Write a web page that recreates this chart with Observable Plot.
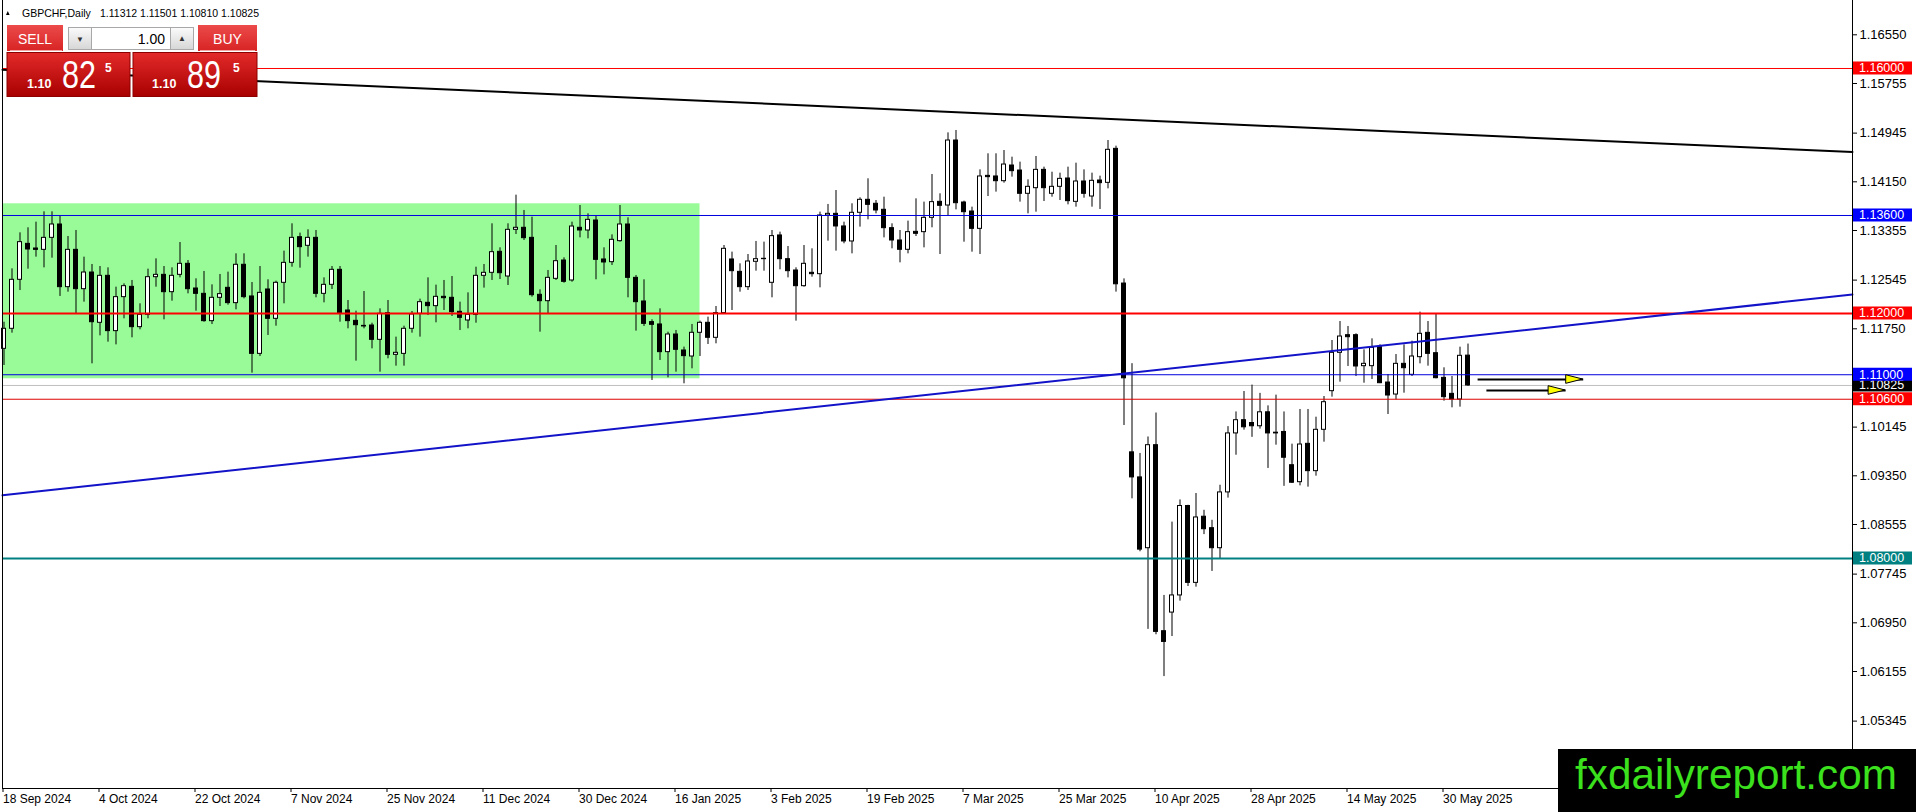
<!DOCTYPE html>
<html>
<head>
<meta charset="utf-8">
<script src="https://cdn.jsdelivr.net/npm/d3@7"></script>
<script src="https://cdn.jsdelivr.net/npm/@observablehq/plot@0.6"></script>
<style>
html,body{margin:0;padding:0;background:#fff;}
#wrap{position:relative;width:1916px;height:812px;overflow:hidden;background:#fff;}
#wrap svg{position:absolute;left:0;top:0;}
</style>
</head>
<body>
<div id="wrap"></div>
<script>
// ---- data (GBPCHF daily, bar index 0 = 18 Sep 2024) ----
const opens = [1.11423,1.11750,1.12550,1.13137,1.13061,1.13039,1.13235,1.13453,1.12430,1.13039,1.12397,1.12669,1.11848,1.12615,1.11712,1.12267,1.12435,1.11777,1.11978,1.12593,1.12631,1.12348,1.12631,1.12811,1.12408,1.12321,1.11875,1.12256,1.12419,1.12169,1.12795,1.12278,1.11341,1.12392,1.11913,1.12501,1.12827,1.13246,1.13105,1.13235,1.12321,1.12468,1.12713,1.12049,1.11880,1.11798,1.11804,1.11570,1.12005,1.11325,1.11341,1.11750,1.11995,1.12174,1.12120,1.12272,1.12256,1.12027,1.11886,1.11978,1.12615,1.12664,1.13007,1.12604,1.13366,1.13399,1.13235,1.12305,1.12201,1.12566,1.12865,1.12539,1.13399,1.13355,1.13518,1.12882,1.12838,1.13181,1.13453,1.12582,1.12196,1.11859,1.11821,1.11369,1.11657,1.11396,1.11298,1.11685,1.11848,1.11603,1.12006,1.12882,1.12680,1.12430,1.12844,1.12893,1.12501,1.13274,1.12887,1.12702,1.12446,1.12664,1.12642,1.13600,1.13627,1.13421,1.13176,1.13644,1.13856,1.13791,1.13693,1.13393,1.13192,1.13040,1.13333,1.13328,1.13562,1.13823,1.13763,1.14824,1.13812,1.13665,1.13382,1.14247,1.14237,1.14160,1.14416,1.14334,1.13954,1.14046,1.14345,1.13954,1.14068,1.14204,1.13823,1.14155,1.13910,1.14171,1.14133,1.14688,1.12489,1.09733,1.09324,1.08168,1.09850,1.06813,1.07117,1.07397,1.08857,1.07602,1.08682,1.08495,1.08168,1.09079,1.10042,1.10258,1.10212,1.10159,1.10387,1.10054,1.10066,1.09523,1.09246,1.09872,1.09426,1.10101,1.10732,1.11358,1.11646,1.11646,1.11140,1.11140,1.11450,1.10873,1.10677,1.11178,1.10999,1.11287,1.11684,1.11352,1.10949,1.10688,1.10596,1.11312];
const highs = [1.11858,1.12729,1.13317,1.13399,1.13491,1.13660,1.13660,1.13584,1.13257,1.13355,1.12920,1.12800,1.12767,1.12745,1.12430,1.12484,1.12539,1.12158,1.12724,1.12892,1.12767,1.12745,1.13159,1.12865,1.12566,1.12686,1.12468,1.12637,1.12675,1.12974,1.12974,1.12506,1.12767,1.12550,1.12528,1.13018,1.13464,1.13312,1.13366,1.13355,1.12582,1.12767,1.12767,1.12212,1.12038,1.12359,1.11842,1.12076,1.12212,1.11614,1.11793,1.12033,1.12234,1.12582,1.12463,1.12539,1.12604,1.12185,1.12337,1.12756,1.12800,1.13464,1.13072,1.13464,1.13932,1.13682,1.13573,1.12386,1.12702,1.13110,1.12909,1.13491,1.13763,1.13627,1.13584,1.13072,1.13284,1.13763,1.13562,1.12620,1.12550,1.11897,1.12076,1.11695,1.11723,1.11451,1.11821,1.11875,1.11940,1.12114,1.13110,1.13002,1.12811,1.12963,1.13176,1.13165,1.13355,1.13328,1.13094,1.12746,1.13110,1.13056,1.13655,1.13780,1.14008,1.13491,1.13791,1.13889,1.14199,1.13845,1.13899,1.13464,1.13355,1.13508,1.13872,1.13818,1.14269,1.13954,1.14949,1.14988,1.13834,1.13736,1.14345,1.14607,1.14607,1.14661,1.14552,1.14471,1.14182,1.14563,1.14389,1.14307,1.14291,1.14389,1.14454,1.14345,1.14291,1.14242,1.14824,1.14732,1.12565,1.11181,1.09715,1.09984,1.10375,1.07397,1.08594,1.08956,1.08869,1.09061,1.08787,1.08624,1.09196,1.10153,1.10393,1.10726,1.10831,1.10696,1.10492,1.10667,1.10393,1.09867,1.10433,1.10433,1.10307,1.10645,1.11559,1.11869,1.11788,1.11668,1.11407,1.11586,1.11488,1.11004,1.11330,1.11488,1.11548,1.12022,1.11869,1.11994,1.11113,1.10971,1.11450,1.11501];
const lows = [1.11151,1.11679,1.12375,1.12724,1.12920,1.12745,1.12903,1.12278,1.12348,1.11984,1.12185,1.11178,1.11635,1.11532,1.11488,1.11913,1.11603,1.11733,1.11913,1.12430,1.11897,1.12201,1.12582,1.12321,1.12038,1.11858,1.11820,1.12114,1.12136,1.12060,1.12239,1.11026,1.11298,1.11641,1.11793,1.12158,1.12756,1.12740,1.12920,1.12256,1.12174,1.12392,1.11858,1.11750,1.11222,1.11750,1.11423,1.11042,1.11260,1.11140,1.11140,1.11679,1.11614,1.11967,1.11848,1.12049,1.11951,1.11722,1.11750,1.11842,1.12414,1.12539,1.12555,1.12457,1.13290,1.13192,1.12267,1.11695,1.11995,1.12539,1.12495,1.12511,1.13235,1.13219,1.12550,1.12631,1.12784,1.13165,1.12256,1.11712,1.11788,1.10906,1.11233,1.10950,1.11042,1.10852,1.11097,1.11298,1.11494,1.11505,1.11995,1.12049,1.12348,1.12376,1.12691,1.12691,1.12256,1.12713,1.12582,1.11875,1.12430,1.12593,1.12419,1.13181,1.13018,1.13138,1.12974,1.13410,1.13529,1.13627,1.13235,1.13056,1.12827,1.12974,1.13257,1.13072,1.13399,1.12963,1.13584,1.13692,1.13164,1.13001,1.12963,1.13910,1.13981,1.14128,1.14226,1.13818,1.13627,1.13654,1.13828,1.13899,1.13845,1.13774,1.13736,1.13883,1.13736,1.13698,1.14035,1.12349,1.10171,1.08974,1.08110,1.06843,1.06755,1.06072,1.06726,1.07304,1.07543,1.07532,1.08390,1.07789,1.07993,1.08986,1.09686,1.10095,1.09978,1.10112,1.09470,1.09850,1.09178,1.09225,1.09186,1.09165,1.09344,1.09899,1.10634,1.10879,1.11135,1.10971,1.10862,1.10922,1.10855,1.10351,1.10590,1.10699,1.10971,1.11178,1.11140,1.10933,1.10569,1.10460,1.10471,1.10810];
const closes = [1.11750,1.12550,1.13165,1.13045,1.13039,1.13235,1.13453,1.12430,1.13039,1.12397,1.12669,1.11858,1.12615,1.11712,1.12267,1.12446,1.11777,1.11978,1.12593,1.12631,1.12348,1.12615,1.12811,1.12397,1.12321,1.11875,1.12256,1.12316,1.12169,1.12795,1.12267,1.11341,1.12337,1.11913,1.12501,1.12827,1.13235,1.13083,1.13235,1.12321,1.12468,1.12713,1.12005,1.11875,1.11809,1.11788,1.11570,1.11995,1.11325,1.11358,1.11750,1.11984,1.12185,1.12120,1.12272,1.12250,1.12022,1.11929,1.11978,1.12615,1.12664,1.13001,1.12658,1.13366,1.13399,1.13230,1.12299,1.12201,1.12582,1.12854,1.12517,1.13420,1.13355,1.13529,1.12876,1.12833,1.13203,1.13453,1.12582,1.12185,1.11831,1.11815,1.11369,1.11657,1.11407,1.11304,1.11685,1.11848,1.11603,1.12006,1.13056,1.12691,1.12430,1.12849,1.12887,1.12887,1.13263,1.12887,1.12691,1.12446,1.12811,1.12642,1.13600,1.13627,1.13421,1.13176,1.13644,1.13856,1.13774,1.13682,1.13393,1.13192,1.13040,1.13328,1.13301,1.13562,1.13818,1.13758,1.14824,1.13801,1.13654,1.13382,1.14237,1.14226,1.14160,1.14432,1.14324,1.13954,1.14068,1.14345,1.14046,1.14068,1.14198,1.13834,1.14155,1.13954,1.14166,1.14128,1.14672,1.12477,1.10942,1.09324,1.08145,1.09850,1.06802,1.06638,1.07397,1.08857,1.07602,1.08670,1.08478,1.08168,1.09079,1.10042,1.10258,1.10142,1.10159,1.10387,1.10042,1.10042,1.09645,1.09237,1.09861,1.09426,1.10101,1.10552,1.11358,1.11624,1.11613,1.11135,1.11178,1.11439,1.10862,1.10661,1.11178,1.11107,1.11298,1.11668,1.11341,1.10944,1.10634,1.10596,1.11309,1.10825];

const tickBars = [0,12,24,36,48,60,72,84,96,108,120,132,144,156,168,180];
const dateLabels = ["18 Sep 2024","4 Oct 2024","22 Oct 2024","7 Nov 2024","25 Nov 2024","11 Dec 2024","30 Dec 2024","16 Jan 2025","3 Feb 2025","19 Feb 2025","7 Mar 2025","25 Mar 2025","10 Apr 2025","28 Apr 2025","14 May 2025","30 May 2025"];
const priceTicks = [1.16550,1.15755,1.14945,1.14150,1.13355,1.12545,1.11750,1.10145,1.09350,1.08555,1.07745,1.06950,1.06155,1.05345];

const levelPrices = [1.16000,1.13600,1.12000,1.11000,1.10600,1.08000];
const levelColors = ["#ff0000","#0000e0","#ff0000","#0000e0","#e00000","#008080"];
const levelBoxColors = ["#ff0000","#0000ff","#ff0000","#0000ff","#ff0000","#008080"];
const levelWidths = [1,1,2,1,1,2];
const lastPrice = 1.10825;

const zoneBars = [-0.19, 87];
const zonePrices = [1.10934, 1.13791];

const blackTrendBars = [-0.19, 231.06];
const blackTrendPrices = [1.15980, 1.14636];
const blueTrendBars = [-0.19, 231.06];
const blueTrendPrices = [1.09032, 1.12310];

const arrowFrom = [184.2, 185.3];
const arrowTo = [197.4, 195.2];
const arrowPrices = [1.10922, 1.10743];

// ---- tables ----
const candles = opens.map((o, i) => ({i, open: o, high: highs[i], low: lows[i], close: closes[i]}));
const zone = [{x1: zoneBars[0], x2: zoneBars[1], y1: zonePrices[0], y2: zonePrices[1]}];
const blackTrend = blackTrendBars.map((b, k) => ({b, p: blackTrendPrices[k]}));
const blueTrend = blueTrendBars.map((b, k) => ({b, p: blueTrendPrices[k]}));
const arrows = arrowFrom.map((f, k) => ({x1: f, x2: arrowTo[k], y: arrowPrices[k]}));

const halfBody = 0.25;

const chart = Plot.plot({
  width: 1916,
  height: 812,
  marginLeft: 2,
  marginRight: 64,
  marginTop: 0,
  marginBottom: 24,
  style: {fontFamily: "'Liberation Sans', Arial, sans-serif", fontSize: "12px", background: "transparent", color: "black"},
  x: {domain: [-0.1875, 231.0625]},
  y: {domain: [1.04245, 1.17110]},
  marks: [
    Plot.rect(zone, {x1: "x1", x2: "x2", y1: "y1", y2: "y2", fill: "#98fb98"}),
    Plot.ruleY([lastPrice], {stroke: "#c0c0c0", strokeWidth: 1}),
    Plot.ruleX(candles, {x: "i", y1: "low", y2: "high", stroke: "black", strokeWidth: 1}),
    Plot.rect(candles, {
      x1: d => d.i - halfBody, x2: d => d.i + halfBody,
      y1: "open", y2: "close",
      fill: d => d.close >= d.open ? "white" : "black",
      stroke: "black", strokeWidth: 1
    }),
    ...levelPrices.map((p, k) => Plot.ruleY([p], {stroke: levelColors[k], strokeWidth: levelWidths[k]})),
    Plot.line(blackTrend, {x: "b", y: "p", stroke: "black", strokeWidth: 2}),
    Plot.line(blueTrend, {x: "b", y: "p", stroke: "#1212c8", strokeWidth: 2}),
    Plot.link(arrows, {x1: "x1", x2: "x2", y1: "y", y2: "y", stroke: "black", strokeWidth: 2}),
    Plot.frame({anchor: "left", stroke: "black"}),
    Plot.frame({anchor: "bottom", stroke: "black"}),
    Plot.frame({anchor: "right", stroke: "black"}),
    Plot.axisY({anchor: "right", ticks: priceTicks, tickFormat: d => d.toFixed(5), tickSize: 4, tickPadding: 3, fontSize: 13, label: null}),
    Plot.axisX({anchor: "bottom", ticks: tickBars, tickFormat: d => dateLabels[tickBars.indexOf(d)], tickSize: 4, tickPadding: 2, textAnchor: "start", dx: -1, fontSize: 12, label: null})
  ]
});

document.getElementById("wrap").appendChild(chart);

const xs = chart.scale("x"), ys = chart.scale("y");
const svg = d3.select(chart);

// arrow heads (yellow, outlined)
const heads = svg.append("g");
arrows.forEach(a => {
  const tx = xs.apply(a.x2), ty = ys.apply(a.y);
  const bx = tx - 17;
  heads.append("polygon")
    .attr("points", `${bx},${ty - 4.3} ${tx},${ty} ${bx},${ty + 4.3}`)
    .attr("fill", "#ffff00").attr("stroke", "black").attr("stroke-width", 1);
});

// price-level label boxes on the right axis
const boxes = svg.append("g")
  .attr("font-family", "'Liberation Sans', Arial, sans-serif")
  .attr("font-size", 12.5)
  .attr("text-anchor", "start");
const boxItems = [{p: lastPrice, c: "#000000"}].concat(levelPrices.map((p, k) => ({p, c: levelBoxColors[k]})));
boxItems.forEach(b => {
  const y = ys.apply(b.p);
  boxes.append("rect").attr("x", 1853).attr("y", y - 6.5).attr("width", 59).attr("height", 13).attr("fill", b.c);
  boxes.append("text").attr("x", 1859).attr("y", y).attr("dy", "0.35em")
    .attr("text-anchor", "start").attr("fill", "white").text(b.p.toFixed(5));
});

// overlay: header, trade panel, watermark
const ov = d3.select("#wrap").append("svg").attr("width", 1916).attr("height", 812)
  .style("font-family", "'Liberation Sans', Arial, sans-serif");
const defs = ov.append("defs");
function grad(id, c1, c2) {
  const g = defs.append("linearGradient").attr("id", id).attr("x1", 0).attr("y1", 0).attr("x2", 0).attr("y2", 1);
  g.append("stop").attr("offset", "0%").attr("stop-color", c1);
  g.append("stop").attr("offset", "100%").attr("stop-color", c2);
}
grad("gBig", "#e32a2a", "#a80000");
grad("gBtn", "#ec4a4a", "#d82424");
grad("gGrey", "#fbfbfb", "#d6d6d6");

ov.append("polygon").attr("points", "6,15 7.8,11 9.6,15").attr("fill", "black");
ov.append("text").attr("x", 22).attr("y", 17).attr("font-size", 10.5).text("GBPCHF,Daily");
ov.append("text").attr("x", 100).attr("y", 17).attr("font-size", 10.5).text("1.11312 1.11501 1.10810 1.10825");

ov.append("rect").attr("x", 7).attr("y", 25).attr("width", 56).attr("height", 26).attr("fill", "url(#gBtn)");
ov.append("line").attr("x1", 10).attr("x2", 62).attr("y1", 50.5).attr("y2", 50.5).attr("stroke", "#f3a5a5");
ov.append("text").attr("x", 35).attr("y", 44).attr("text-anchor", "middle").attr("font-size", 14).attr("fill", "white").text("SELL");
ov.append("rect").attr("x", 68.5).attr("y", 27.5).attr("width", 23).attr("height", 22).attr("fill", "url(#gGrey)").attr("stroke", "#a8a8a8");
ov.append("text").attr("x", 80).attr("y", 42).attr("text-anchor", "middle").attr("font-size", 8).attr("fill", "#333").text("▼");
ov.append("rect").attr("x", 91.5).attr("y", 27.5).attr("width", 79).attr("height", 22).attr("fill", "white").attr("stroke", "#a8a8a8");
ov.append("text").attr("x", 165).attr("y", 44).attr("text-anchor", "end").attr("font-size", 14).attr("fill", "black").text("1.00");
ov.append("rect").attr("x", 170.5).attr("y", 27.5).attr("width", 23).attr("height", 22).attr("fill", "url(#gGrey)").attr("stroke", "#a8a8a8");
ov.append("text").attr("x", 182).attr("y", 41).attr("text-anchor", "middle").attr("font-size", 8).attr("fill", "#333").text("▲");
ov.append("rect").attr("x", 198).attr("y", 25).attr("width", 59).attr("height", 26).attr("fill", "url(#gBtn)");
ov.append("line").attr("x1", 200).attr("x2", 255).attr("y1", 50.5).attr("y2", 50.5).attr("stroke", "#f3a5a5");
ov.append("text").attr("x", 227.5).attr("y", 44).attr("text-anchor", "middle").attr("font-size", 14).attr("fill", "white").text("BUY");

function bigBox(x0, w, big, xs1, xb, xs2) {
  ov.append("rect").attr("x", x0 + 0.5).attr("y", 52.5).attr("width", w).attr("height", 44).attr("fill", "url(#gBig)").attr("stroke", "#8c0000");
  ov.append("text").attr("x", xs1).attr("y", 88).attr("font-size", 12.5).attr("font-weight", "bold").attr("fill", "white").text("1.10");
  ov.append("text").attr("x", xb).attr("y", 88).attr("font-size", 38).attr("fill", "white")
    .attr("textLength", 34).attr("lengthAdjust", "spacingAndGlyphs").text(big);
  ov.append("text").attr("x", xs2).attr("y", 72).attr("font-size", 12).attr("font-weight", "bold").attr("fill", "white").text("5");
}
bigBox(6.5, 123, "82", 27, 62, 105);
bigBox(132.5, 124, "89", 152, 187, 233);

ov.append("rect").attr("x", 1558).attr("y", 749).attr("width", 358).attr("height", 63).attr("fill", "black");
ov.append("text").attr("x", 1575).attr("y", 789).attr("font-size", 42).attr("fill", "#3ce11e")
  .attr("textLength", 322).attr("lengthAdjust", "spacingAndGlyphs").text("fxdailyreport.com");
</script>
</body>
</html>
